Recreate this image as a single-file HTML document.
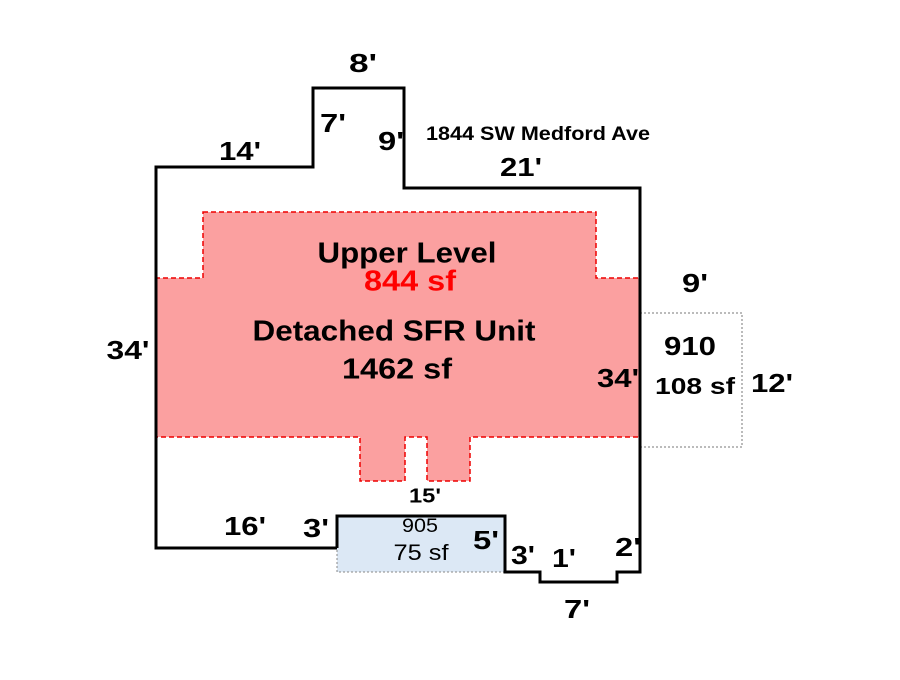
<!DOCTYPE html>
<html><head><style>body{margin:0;background:#fff}svg text{font-family:"Liberation Sans",Arial,sans-serif;font-weight:bold;text-anchor:middle;dominant-baseline:middle}</style></head><body>
<svg width="900" height="675" viewBox="0 0 900 675" xmlns="http://www.w3.org/2000/svg">
<rect x="337" y="516" width="168" height="56" fill="#dce8f5" stroke="#888" stroke-dasharray="2,2" stroke-width="1"/>
<rect x="640" y="313" width="102" height="134" fill="none" stroke="#777" stroke-dasharray="2,2" stroke-width="1"/>
<polygon points="203,212 596,212 596,278 640,278 640,437 470,437 470,481 427,481 427,437 405,437 405,481 360,481 360,437 156,437 156,278 203,278" fill="#fba0a0" stroke="#e00" stroke-width="1.5" stroke-dasharray="5,3"/>
<polyline points="337,548 156,548 156,167 313,167 313,88 404,88 404,188 640,188 640,572 617,572 617,582 540,582 540,572 505,572 505,516 337,516 337,548" fill="none" stroke="#000" stroke-width="3"/>
<g font-size="26">
<text x="363" y="65" textLength="28" lengthAdjust="spacingAndGlyphs">8'</text>
<text x="333" y="125" textLength="26" lengthAdjust="spacingAndGlyphs">7'</text>
<text x="391" y="143" textLength="26" lengthAdjust="spacingAndGlyphs">9'</text>
<text x="240" y="153" textLength="42" lengthAdjust="spacingAndGlyphs">14'</text>
<text x="521" y="169" textLength="42" lengthAdjust="spacingAndGlyphs">21'</text>
<text x="128" y="352" textLength="43" lengthAdjust="spacingAndGlyphs">34'</text>
<text x="618" y="380" textLength="42" lengthAdjust="spacingAndGlyphs">34'</text>
<text x="695" y="285" textLength="26" lengthAdjust="spacingAndGlyphs">9'</text>
<text x="690" y="348" textLength="52" lengthAdjust="spacingAndGlyphs">910</text>
<text x="772" y="385" textLength="42" lengthAdjust="spacingAndGlyphs">12'</text>
<text x="245" y="528" textLength="42" lengthAdjust="spacingAndGlyphs">16'</text>
<text x="316" y="530" textLength="26" lengthAdjust="spacingAndGlyphs">3'</text>
<text x="486" y="542" textLength="26" lengthAdjust="spacingAndGlyphs">5'</text>
<text x="523" y="557" textLength="24" lengthAdjust="spacingAndGlyphs">3'</text>
<text x="564" y="560" textLength="24" lengthAdjust="spacingAndGlyphs">1'</text>
<text x="628" y="549" textLength="26" lengthAdjust="spacingAndGlyphs">2'</text>
<text x="577" y="611" textLength="26" lengthAdjust="spacingAndGlyphs">7'</text>
</g>
<text x="538" y="135" font-size="19" textLength="224" lengthAdjust="spacingAndGlyphs">1844 SW Medford Ave</text>
<text x="407" y="255" font-size="29" textLength="179" lengthAdjust="spacingAndGlyphs">Upper Level</text>
<text x="410" y="283" font-size="29" fill="#f00" textLength="92" lengthAdjust="spacingAndGlyphs">844 sf</text>
<text x="394" y="333" font-size="29" textLength="283" lengthAdjust="spacingAndGlyphs">Detached SFR Unit</text>
<text x="397" y="371" font-size="29" textLength="110" lengthAdjust="spacingAndGlyphs">1462 sf</text>
<text x="695" y="388" font-size="23" textLength="80" lengthAdjust="spacingAndGlyphs">108 sf</text>
<text x="425" y="497" font-size="20" textLength="32" lengthAdjust="spacingAndGlyphs">15'</text>
<text x="420" y="527" font-size="19" style="font-weight:normal" textLength="36" lengthAdjust="spacingAndGlyphs">905</text>
<text x="421" y="554" font-size="22" style="font-weight:normal" textLength="55" lengthAdjust="spacingAndGlyphs">75 sf</text>
</svg>
</body></html>
